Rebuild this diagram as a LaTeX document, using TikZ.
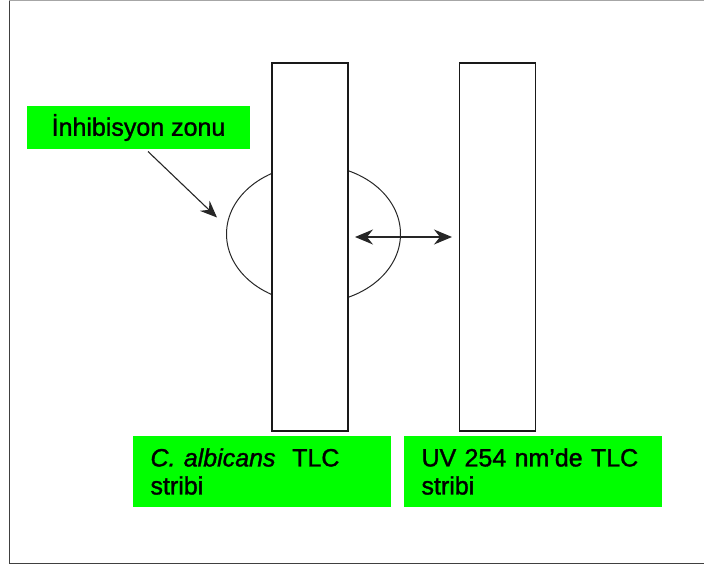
\documentclass[tikz,border=0pt]{standalone}
\usepackage{fontspec}
\setmainfont{Liberation Sans}[FakeBold=1.3]
\usetikzlibrary{arrows.meta}
\definecolor{lblgreen}{RGB}{0,255,0}
\begin{document}
\begin{tikzpicture}[x=1pt,y=-1pt,
  strip/.style={draw=black!90,line width=1.1pt,fill=white,minimum width=76pt,minimum height=368pt,inner sep=0pt},
  lbl/.style={fill=lblgreen,draw=none,inner ysep=0pt,font=\fontsize{25}{28}\selectfont},
  botlbl/.style={lbl,minimum width=258pt,minimum height=71pt,text width=222pt,inner xsep=18pt,align=left},
  conn/.style={line width=1.1pt,black!85}]
\useasboundingbox (0,0) rectangle (704,567);
% outer frame
\draw[black!35,line width=1pt] (9,0.8) -- (720,0.8);
\draw[black!75,line width=1pt] (9,0.8) -- (9,563) -- (720,563);
% inhibition zone
\draw[line width=1pt,black!85] (313.5,234) ellipse [x radius=87, y radius=69];
% strips
\node[strip] (s1) at (310,247) {};
\node[strip] (s2) at (497.8,247) {};
% labels
\node[lbl,minimum width=223pt,minimum height=43pt,inner xsep=0pt] (zl) at (138.5,127.5) {İnhibisyon zonu};
\node[botlbl] (l1) at (261.5,471.5) {\textit{C. albicans}\ \ TLC\\stribi};
\node[botlbl] (l2) at (532.5,471.5) {UV 254 nm’de TLC\\stribi};
% arrows
\coordinate (pa) at (148,151.5);
\coordinate (pb) at (217,217.5);
\draw[conn,-{Stealth[length=17pt,width=14pt,inset=6pt]}] (pa) -- (pb);
\coordinate (da) at (355,237);
\coordinate (db) at (452,237);
\draw[conn,line width=1.4pt,{Stealth[length=18pt,width=15pt,inset=6pt]}-{Stealth[length=18pt,width=15pt,inset=6pt]}] (da) -- (db);
\end{tikzpicture}
\end{document}
